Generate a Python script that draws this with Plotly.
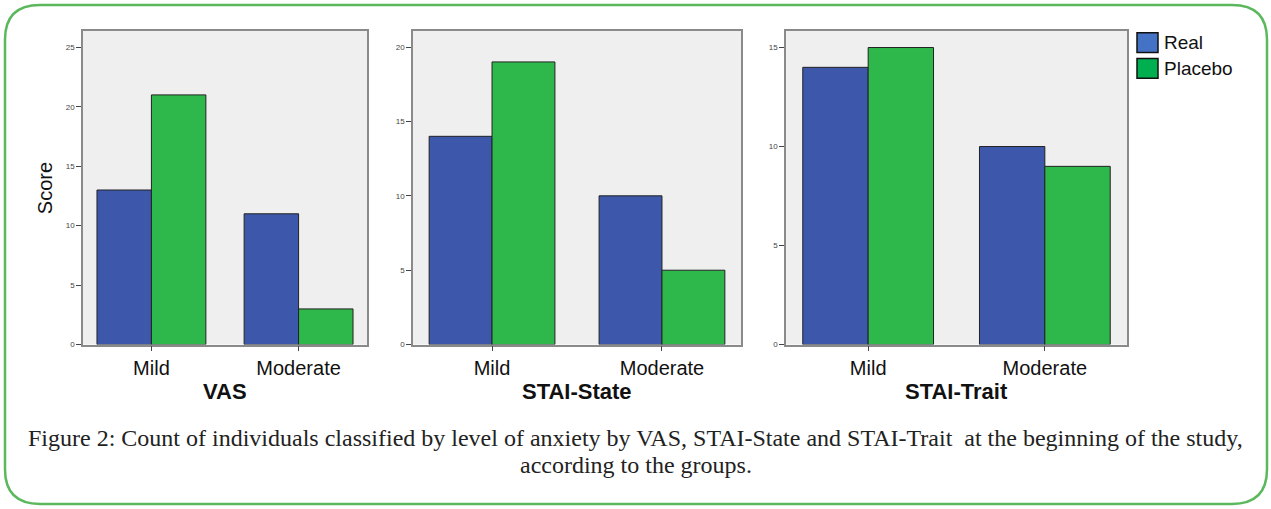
import plotly.graph_objects as go

categories = ["Mild", "Moderate"]
groups = ["Real", "Placebo"]
panel_titles = ["VAS", "STAI-State", "STAI-Trait"]
real_vas = [13, 11]
placebo_vas = [21, 3]
real_state = [14, 10]
placebo_state = [19, 5]
real_trait = [14, 10]
placebo_trait = [15, 9]
y_max = [26.4, 21.1, 15.85]
caption_lines = [
    "Figure 2: Count of individuals classified by level of anxiety by VAS, STAI-State and STAI-Trait  at the beginning of the study,",
    "according to the groups.",
]

W, H = 1271, 509
BAR_BLUE = "#3d58aa"
BAR_GREEN = "#2eb84b"
LEG_BLUE = "#4472c4"
LEG_GREEN = "#00b050"
FONT = "Arial, Liberation Sans, sans-serif"
SERIF = "Liberation Serif, Times New Roman, serif"

def px(x):
    return x / W

def py(y):
    return 1 - y / H

domains = [(83, 367), (413, 741), (786, 1127)]
top_px, bot_px = 31, 348

series = [(real_vas, placebo_vas), (real_state, placebo_state), (real_trait, placebo_trait)]

fig = go.Figure()
for i, (r, p) in enumerate(series):
    xa = "x" if i == 0 else f"x{i+1}"
    ya = "y" if i == 0 else f"y{i+1}"
    fig.add_trace(go.Bar(x=categories, y=r, name=groups[0], xaxis=xa, yaxis=ya,
                         marker=dict(color=BAR_BLUE, line=dict(color="#222222", width=1)),
                         showlegend=False))
    fig.add_trace(go.Bar(x=categories, y=p, name=groups[1], xaxis=xa, yaxis=ya,
                         marker=dict(color=BAR_GREEN, line=dict(color="#222222", width=1)),
                         showlegend=False))

layout = dict(
    width=W, height=H, margin=dict(l=0, r=0, t=0, b=0),
    paper_bgcolor="white", plot_bgcolor="#efefef",
    barmode="group", bargap=0.26, bargroupgap=0,
    font=dict(family=FONT, color="#111111"),
)
for i, (x0, x1) in enumerate(domains):
    sx = "" if i == 0 else str(i + 1)
    layout[f"xaxis{sx}"] = dict(
        domain=[px(x0), px(x1)], anchor=f"y{sx}", type="category",
        range=[-0.465, 1.465], showline=True, mirror=True, linecolor="#8a8a8a", linewidth=1.5,
        ticks="outside", ticklen=5, tickcolor="#444444", tickfont=dict(size=20, color="#111111"),
        showgrid=False, zeroline=False, fixedrange=True,
    )
    layout[f"yaxis{sx}"] = dict(
        domain=[py(bot_px), py(top_px)], anchor=f"x{sx}",
        range=[0, y_max[i]], dtick=5, showline=True, mirror=True, linecolor="#8a8a8a", linewidth=1.5,
        ticks="outside", ticklen=5, tickcolor="#444444", tickfont=dict(size=8, color="#444444"),
        showgrid=False, zeroline=False, fixedrange=True,
    )
fig.update_layout(**layout)

annotations = []
for i, (x0, x1) in enumerate(domains):
    annotations.append(dict(xref="paper", yref="paper", x=px((x0 + x1) / 2), y=py(395),
                            text=f"<b>{panel_titles[i]}</b>", showarrow=False,
                            font=dict(size=22, family=FONT, color="#111111"),
                            xanchor="center", yanchor="middle"))
annotations.append(dict(xref="paper", yref="paper", x=px(45), y=py(190), text="Score",
                        textangle=-90, showarrow=False, font=dict(size=20, family=FONT, color="#111111"),
                        xanchor="center", yanchor="middle"))
for j, line in enumerate(caption_lines):
    annotations.append(dict(xref="paper", yref="paper", x=0.5, y=py(442 + 28 * j), text=line,
                            showarrow=False, font=dict(size=24, family=SERIF, color="#222222"),
                            xanchor="center", yanchor="middle"))
# legend (custom)
leg_colors = [LEG_BLUE, LEG_GREEN]
shapes = []
for k, g in enumerate(groups):
    y0 = 33 + 26 * k
    shapes.append(dict(type="rect", xref="paper", yref="paper",
                       x0=px(1137), x1=px(1158), y0=py(y0), y1=py(y0 + 20),
                       fillcolor=leg_colors[k], line=dict(color="#111111", width=1.5)))
    annotations.append(dict(xref="paper", yref="paper", x=px(1162), y=py(y0 + 10), text=g,
                            showarrow=False, font=dict(size=19, family=FONT, color="#111111"),
                            xanchor="left", yanchor="middle"))

# rounded green border
L, T, R, B, rr = 5, 5, 1267, 509, 35
path = (f"M {px(L+rr)},{py(T)} L {px(R-rr)},{py(T)} Q {px(R)},{py(T)} {px(R)},{py(T+rr)} "
        f"L {px(R)},{py(B-rr)} Q {px(R)},{py(B)} {px(R-rr)},{py(B)} "
        f"L {px(L+rr)},{py(B)} Q {px(L)},{py(B)} {px(L)},{py(B-rr)} "
        f"L {px(L)},{py(T+rr)} Q {px(L)},{py(T)} {px(L+rr)},{py(T)} Z")
shapes.append(dict(type="path", xref="paper", yref="paper", path=path,
                   line=dict(color="#5cb85c", width=2.5)))
fig.update_layout(annotations=annotations, shapes=shapes)

fig.write_html("out.html", config={"displayModeBar": False},
               post_script="document.body.style.margin='0px';document.body.style.overflow='hidden';")
